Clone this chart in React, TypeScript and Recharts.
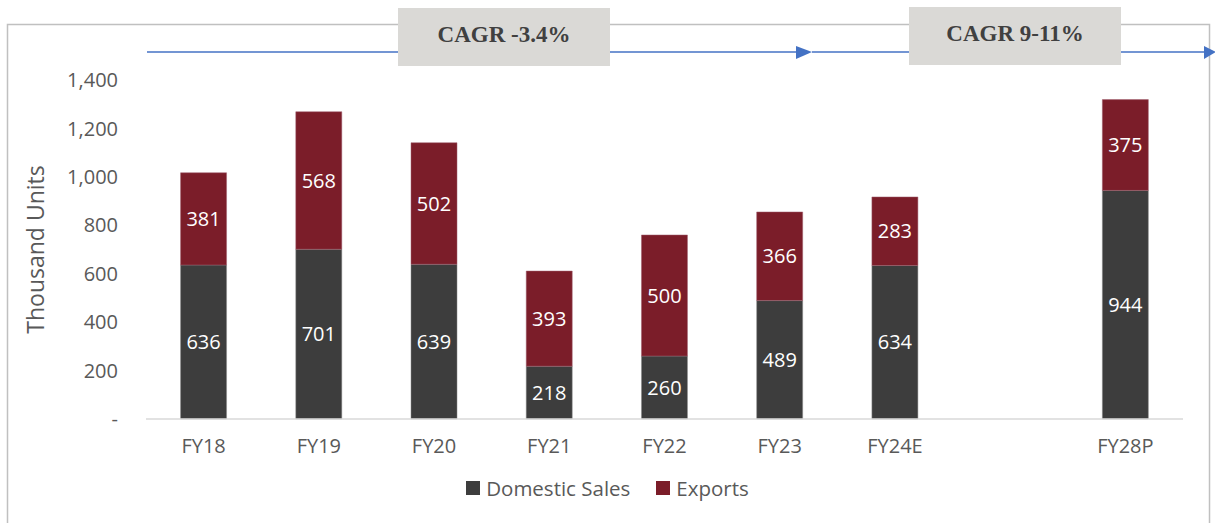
import { BarChart, Bar, XAxis, YAxis, LabelList, Legend } from 'recharts';

const categories = ['FY18', 'FY19', 'FY20', 'FY21', 'FY22', 'FY23', 'FY24E', '', 'FY28P'];
const domestic = [636, 701, 639, 218, 260, 489, 634, null, 944];
const exports_ = [381, 568, 502, 393, 500, 366, 283, null, 375];
const yTicks = [0, 200, 400, 600, 800, 1000, 1200, 1400];
const cagrLabels = ['CAGR -3.4%', 'CAGR 9-11%'];

const DARK = '#3d3d3d';
const RED = '#7b1d29';
const GRAY = '#595959';
const FONT = '"Open Sans", sans-serif';

const data = categories.map((c, i) => ({ name: c, domestic: domestic[i], exports: exports_[i] }));

const fmtTick = (v: number) => (v === 0 ? '-' : v.toLocaleString('en-US'));

function LegendContent() {
  const items = [
    { label: 'Domestic Sales', color: DARK },
    { label: 'Exports', color: RED },
  ];
  return (
    <div style={{ display: 'flex', justifyContent: 'center', gap: 26, fontFamily: FONT, fontSize: 20.5, color: GRAY }}>
      {items.map((it) => (
        <div key={it.label} style={{ display: 'flex', alignItems: 'center' }}>
          <span style={{ width: 14, height: 14, background: it.color, marginRight: 6, display: 'inline-block' }} />
          {it.label}
        </div>
      ))}
    </div>
  );
}

function AxisTitle(props: any) {
  const vb = props.viewBox || {};
  const x = vb.x - 11;
  const y = vb.y + vb.height / 2;
  return (
    <text x={x} y={y} transform={`rotate(-90, ${x}, ${y})`} textAnchor="middle" dominantBaseline="central"
      fill={GRAY} fontSize={23} fontFamily={FONT}>
      Thousand Units
    </text>
  );
}

export default function App() {
  return (
    <div style={{ position: 'absolute', left: 0, top: 0, width: 1215, height: 523, background: '#fff', overflow: 'hidden' }}>
      <svg width={1215} height={523} style={{ position: 'absolute', left: 0, top: 0 }}>
        <rect x={7.5} y={24.5} width={1202} height={520} fill="none" stroke="#c0c0c0" strokeWidth={1.5} />
        {/* period arrows */}
        <line x1={147} y1={52} x2={800} y2={52} stroke="#4472c4" strokeWidth={1.3} />
        <polygon points="796,46 812,52 796,59" fill="#4472c4" />
        <line x1={812} y1={52} x2={1206} y2={52} stroke="#4472c4" strokeWidth={1.3} />
        <polygon points="1204,46 1216,52 1204,59" fill="#4472c4" />
        {/* CAGR boxes */}
        <rect x={398} y={8} width={212} height={58} fill="#dad9d6" />
        <text x={504} y={34} textAnchor="middle" dominantBaseline="central" fontFamily='"Liberation Serif", "Times New Roman", serif'
          fontWeight="bold" fontSize={23} fill="#404040">{cagrLabels[0]}</text>
        <rect x={909} y={7} width={212} height={58} fill="#dad9d6" />
        <text x={1015} y={33} textAnchor="middle" dominantBaseline="central" fontFamily='"Liberation Serif", "Times New Roman", serif'
          fontWeight="bold" fontSize={23} fill="#404040">{cagrLabels[1]}</text>
      </svg>
      <div style={{ position: 'absolute', left: 0, top: 0 }}>
        <BarChart width={1215} height={523} data={data} margin={{ top: 80, right: 32, bottom: 64, left: 46 }}
          barCategoryGap="30%">
          <XAxis dataKey="name" height={40} tickLine={false} tickMargin={14} axisLine={{ stroke: '#d9d9d9', strokeWidth: 1.5 }}
            tick={{ fill: GRAY, fontSize: 20, fontFamily: FONT }} interval={0} />
          <YAxis width={100} domain={[0, 1400]} ticks={yTicks} tickFormatter={fmtTick} axisLine={false} tickLine={false}
            tickMargin={22} tick={{ fill: GRAY, fontSize: 20, fontFamily: FONT }} label={<AxisTitle />} />
          <Legend layout="horizontal" verticalAlign="middle" align="center" content={<LegendContent />}
            wrapperStyle={{ top: 474, left: 0, width: 1215 }} />
          <Bar dataKey="domestic" name="Domestic Sales" stackId="a" fill={DARK} stroke="#8a8a8a" strokeWidth={0.5} isAnimationActive={false}>
            <LabelList dataKey="domestic" position="center" fill="#fff" fontSize={20} fontFamily={FONT}
              formatter={(v: any) => (v == null ? '' : v)} />
          </Bar>
          <Bar dataKey="exports" name="Exports" stackId="a" fill={RED} stroke="#a06070" strokeWidth={0.5} isAnimationActive={false}>
            <LabelList dataKey="exports" position="center" fill="#fff" fontSize={20} fontFamily={FONT}
              formatter={(v: any) => (v == null ? '' : v)} />
          </Bar>
        </BarChart>
      </div>
    </div>
  );
}
